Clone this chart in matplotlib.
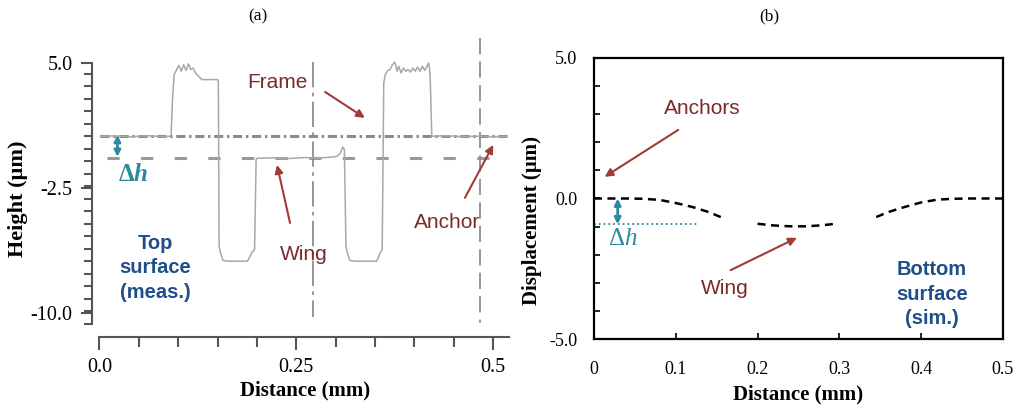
import numpy as np
import matplotlib
matplotlib.use("Agg")
import matplotlib.pyplot as plt
from matplotlib.ticker import FixedLocator, MultipleLocator

plt.rcParams["font.family"] = ["Liberation Serif", "DejaVu Serif"]
plt.rcParams["mathtext.fontset"] = "custom"
plt.rcParams["mathtext.rm"] = "Liberation Serif"
plt.rcParams["mathtext.it"] = "Liberation Serif:italic"
plt.rcParams["mathtext.bf"] = "Liberation Serif:bold"
plt.rcParams["mathtext.bfit"] = "Liberation Serif:bold:italic"

# (a) 表面プロファイル測定値 [mm, um]
meas_x = [0.001, 0.02, 0.04, 0.06, 0.08, 0.091,
          0.093, 0.095, 0.098, 0.101, 0.104, 0.107, 0.110, 0.113, 0.116, 0.119,
          0.122, 0.126, 0.130, 0.134, 0.150, 0.151,
          0.152, 0.154, 0.157, 0.163, 0.188, 0.194, 0.197,
          0.199, 0.201, 0.22, 0.24, 0.26, 0.28, 0.296, 0.302, 0.306, 0.309, 0.311,
          0.313, 0.315, 0.318, 0.324, 0.352, 0.357, 0.359,
          0.361, 0.363, 0.366, 0.369, 0.372, 0.375, 0.378, 0.380, 0.383, 0.386,
          0.389, 0.392, 0.395, 0.398, 0.401, 0.404, 0.407, 0.410, 0.413, 0.416,
          0.418, 0.419, 0.420,
          0.422, 0.44, 0.46, 0.48, 0.50, 0.517]
meas_y = [0.59, 0.62, 0.57, 0.63, 0.58, 0.6,
          3.0, 4.3, 4.6, 4.85, 4.5, 4.9, 4.55, 4.95, 4.6, 4.7,
          4.4, 4.2, 4.0, 4.0, 4.0, 3.9,
          -6.0, -6.45, -6.85, -6.9, -6.9, -6.35, -6.2,
          -0.75, -0.72, -0.7, -0.74, -0.68, -0.7, -0.65, -0.6, -0.4, -0.05, -0.2,
          -6.0, -6.45, -6.85, -6.9, -6.9, -6.35, -6.2,
          3.8, 4.3, 4.55, 4.6, 4.9, 5.05, 4.5, 4.8, 4.4, 4.7,
          4.5, 4.6, 4.45, 4.7, 4.5, 4.75, 4.5, 4.8, 4.55, 4.8,
          5.0, 4.7, 4.0,
          0.6, 0.63, 0.58, 0.6, 0.57, 0.6]

frame_level = 0.59
wing_level = -0.7
cursor_x = [0.271, 0.483]

# (b) 下面の変位シミュレーション [mm, um]
anchor_l_x = [0.0, 0.02, 0.04, 0.06, 0.08, 0.10, 0.12, 0.14, 0.155]
anchor_l_y = [0.0, 0.0, 0.0, -0.01, -0.05, -0.16, -0.3, -0.48, -0.66]
wing_x = [0.2, 0.22, 0.24, 0.26, 0.28, 0.295]
wing_y = [-0.9, -0.96, -0.99, -0.99, -0.95, -0.9]
anchor_r_x = [0.345, 0.36, 0.38, 0.40, 0.42, 0.44, 0.46, 0.48, 0.5]
anchor_r_y = [-0.66, -0.48, -0.3, -0.14, -0.04, -0.01, 0.0, 0.0, 0.0]
delta_h = -0.92

red = "#7a2a2a"
arrow_red = "#a23a36"
teal = "#2b8a9c"
blue = "#1f4e8a"
sans = ["Liberation Sans", "DejaVu Sans"]

fig = plt.figure(figsize=(10.16, 4.08), dpi=100)

# ---- (a) ----
ax1 = fig.add_axes([0.0906, 0.174, 0.4104, 0.733])
ax1.plot(meas_x, meas_y, color="#a8a8a8", lw=1.1, zorder=3)
ax1.plot([0.001, 0.517], [frame_level, frame_level], color="#8c8c8c", lw=2.2,
         linestyle=(0, (3.0, 1.2, 0.8, 1.2)), zorder=2)
ax1.plot([0.010, 0.517], [wing_level, wing_level], color="#9a9a9a", lw=2.2,
         linestyle=(0, (4.0, 7.0)), zorder=2)
ax1.plot([cursor_x[0]] * 2, [5.06, -10.24], color="#8c8c8c", lw=1.3,
         linestyle=(0, (14, 3, 2, 3)))
ax1.plot([cursor_x[1]] * 2, [6.5, -10.6], color="#8c8c8c", lw=1.3,
         linestyle=(0, (9, 4)))

ax1.set_xlim(-0.0093, 0.52)
ax1.set_ylim(-11.45, 6.5)
for s in ["top", "right"]:
    ax1.spines[s].set_visible(False)
ax1.spines["left"].set_bounds(-10.66, 5.0)
ax1.spines["bottom"].set_bounds(0.0, 0.52)
for s in ["left", "bottom"]:
    ax1.spines[s].set_color("#555555")
    ax1.spines[s].set_linewidth(1.5)
ax1.yaxis.set_major_locator(FixedLocator([5.0, -2.5, -10.0]))
ax1.yaxis.set_minor_locator(FixedLocator(np.arange(-10.66, 5.01, 0.75)))
ax1.set_yticklabels(["5.0", "-2.5", "-10.0"])
ax1.xaxis.set_major_locator(FixedLocator([0.0, 0.25, 0.5]))
ax1.xaxis.set_minor_locator(MultipleLocator(0.05))
ax1.set_xticklabels(["0.0", "0.25", "0.5"])
ax1.tick_params(which="both", direction="out", color="#555555", width=1.5,
                labelsize=14.5, pad=6)
ax1.tick_params(which="major", length=9)
ax1.tick_params(which="minor", length=7)
ax1.tick_params(axis="y", which="minor", length=6)
ax1.tick_params(axis="y", which="major", length=8)
ax1.set_xlabel("Distance (mm)", fontsize=15, fontweight="bold")
ax1.xaxis.set_label_coords(0.511, -0.145)
ax1.set_ylabel("Height (µm)", fontsize=16, fontweight="bold")
ax1.yaxis.set_label_coords(-0.153, 0.463)

ax1.annotate("", xy=(0.0229, -0.64), xytext=(0.0229, 0.68),
             arrowprops=dict(arrowstyle="<|-|>", color=teal, lw=2,
                             mutation_scale=9, shrinkA=0, shrinkB=0))
ax1.text(0.0431, -1.72, r"$\mathbf{\Delta}\mathbfit{h}$", color=teal,
         fontsize=18, ha="center", va="center")
ax1.text(0.2266, 3.8, "Frame", color=red, fontsize=15, family=sans,
         ha="center", va="center")
ax1.annotate("", xy=(0.337, 1.7), xytext=(0.2865, 3.26),
             arrowprops=dict(arrowstyle="-|>", color=arrow_red, lw=1.5,
                             mutation_scale=12, shrinkA=0, shrinkB=0))
ax1.text(0.26, -6.52, "Wing", color=red, fontsize=15, family=sans,
         ha="center", va="center")
ax1.annotate("", xy=(0.2255, -1.12), xytext=(0.242, -4.6),
             arrowprops=dict(arrowstyle="-|>", color=arrow_red, lw=1.5,
                             mutation_scale=12, shrinkA=0, shrinkB=0))
ax1.text(0.442, -4.6, "Anchor", color=red, fontsize=15, family=sans,
         ha="center", va="center")
ax1.annotate("", xy=(0.50, 0.08), xytext=(0.464, -3.1),
             arrowprops=dict(arrowstyle="-|>", color=arrow_red, lw=1.5,
                             mutation_scale=12, shrinkA=0, shrinkB=0))
ax1.text(0.0707, -7.3, "Top\nsurface\n(meas.)", color=blue, fontsize=14.5,
         family=sans, fontweight="bold", ha="center", va="center",
         linespacing=1.35)

# ---- (b) ----
ax2 = fig.add_axes([0.5846, 0.169, 0.4026, 0.689])
dash = dict(color="black", lw=1.8, linestyle=(0, (3.2, 2.2)))
ax2.plot(anchor_l_x, anchor_l_y, **dash)
ax2.plot(wing_x, wing_y, **dash)
ax2.plot(anchor_r_x, anchor_r_y, **dash)
ax2.plot([0.0, 0.126], [delta_h, delta_h], color=teal, lw=1.3, linestyle=":")

ax2.set_xlim(0, 0.5)
ax2.set_ylim(-5, 5)
for s in ax2.spines.values():
    s.set_linewidth(1.6)
ax2.set_xticks([0, 0.1, 0.2, 0.3, 0.4, 0.5])
ax2.set_xticklabels(["0", "0.1", "0.2", "0.3", "0.4", "0.5"])
ax2.set_yticks(np.arange(-5, 5.1, 1.0))
ax2.set_yticklabels(["-5.0", "", "", "", "", "0.0", "", "", "", "", "5.0"])
ax2.tick_params(direction="in", length=4, width=1.2, labelsize=13)
ax2.tick_params(axis="x", pad=16)
ax2.tick_params(axis="y", pad=12)
ax2.set_xlabel("Distance (mm)", fontsize=15, fontweight="bold")
ax2.xaxis.set_label_coords(0.499, -0.16)
ax2.set_ylabel("Displacement (µm)", fontsize=15, fontweight="bold")
ax2.yaxis.set_label_coords(-0.127, 0.423)

ax2.annotate("", xy=(0.029, delta_h), xytext=(0.029, 0.0),
             arrowprops=dict(arrowstyle="<|-|>", color=teal, lw=2,
                             mutation_scale=9, shrinkA=0, shrinkB=0))
ax2.text(0.035, -1.45, r"$\Delta h$", color=teal, fontsize=18,
         ha="center", va="center")
ax2.text(0.132, 3.2, "Anchors", color=red, fontsize=15, family=sans,
         ha="center", va="center")
ax2.annotate("", xy=(0.013, 0.77), xytext=(0.103, 2.44),
             arrowprops=dict(arrowstyle="-|>", color=arrow_red, lw=1.5,
                             mutation_scale=12, shrinkA=0, shrinkB=0))
ax2.text(0.16, -3.2, "Wing", color=red, fontsize=15, family=sans,
         ha="center", va="center")
ax2.annotate("", xy=(0.248, -1.4), xytext=(0.167, -2.55),
             arrowprops=dict(arrowstyle="-|>", color=arrow_red, lw=1.5,
                             mutation_scale=12, shrinkA=0, shrinkB=0))
ax2.text(0.413, -3.4, "Bottom\nsurface\n(sim.)", color=blue, fontsize=14.5,
         family=sans, fontweight="bold", ha="center", va="center",
         linespacing=1.35)

fig.text(258 / 1016, 1 - 16 / 408, "(a)", fontsize=12.5, ha="center", va="center")
fig.text(769 / 1016, 1 - 16 / 408, "(b)", fontsize=12.5, ha="center", va="center")

fig.savefig("out.png", dpi=100)
